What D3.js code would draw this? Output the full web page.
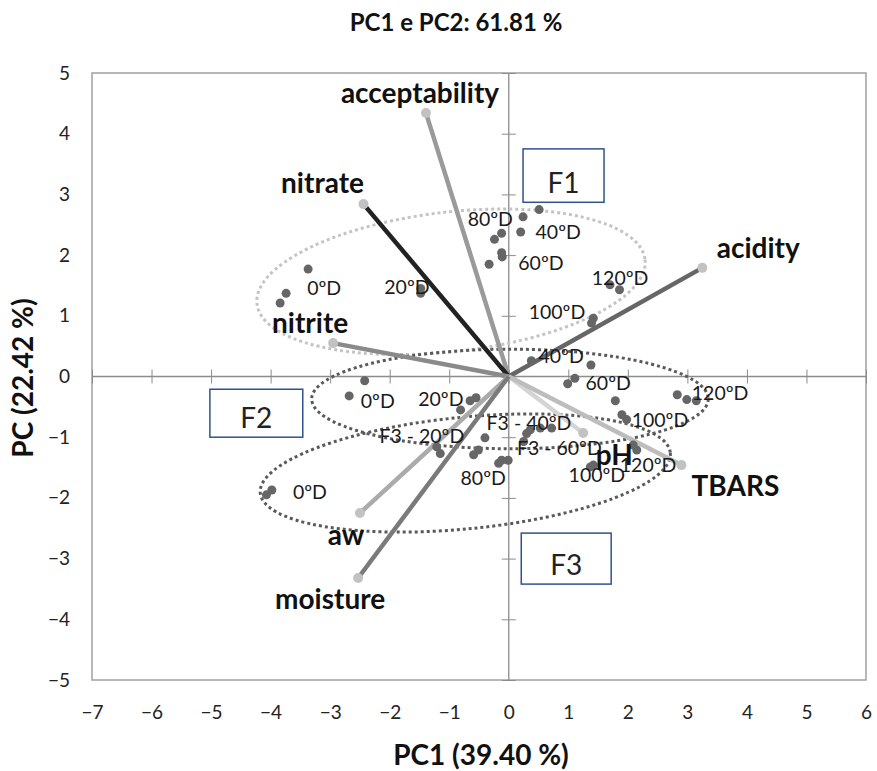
<!DOCTYPE html>
<html>
<head>
<meta charset="utf-8">
<script src="https://cdn.jsdelivr.net/npm/d3@7"></script>
<style>
  body { margin: 0; background: #fff; }
  svg { font-family: Lato, "Liberation Sans", sans-serif; }
</style>
</head>
<body>
<div id="chart"></div>
<script>
// loadings (vectors)
var variables = ["acceptability", "nitrate", "acidity", "nitrite", "pH", "TBARS", "aw", "moisture"];
var loadX = [-1.39, -2.44, 3.25, -2.95, 1.25, 2.90, -2.50, -2.53];
var loadY = [4.34, 2.84, 1.79, 0.55, -0.93, -1.46, -2.25, -3.32];

// scores (F1, F2, F3 samples)
var scoreX = [-3.37, -3.74, -3.84, -1.48, -1.48, 0.51, 0.24, 0.20, -0.12, -0.24, -0.12, -0.11, -0.33, 1.70, 1.86, 1.42, 1.39,
              -2.42, -2.68, -0.55, -0.65, -0.81, 1.38, 0.38, 1.11, 0.99, 1.79, 1.90, 1.98, 2.83, 2.99, 3.15,
              -3.98, -4.07, -1.21, -1.15, -0.40, -0.51, -0.59, 0.30, 0.36, 0.53, 0.72, 0.25, -0.12, -0.01, -0.17, 2.15, 2.09, 1.37, 1.42];
var scoreY = [1.77, 1.37, 1.21, 1.37, 1.45, 2.75, 2.63, 2.38, 2.36, 2.26, 2.04, 1.97, 1.85, 1.51, 1.43, 0.96, 0.88,
              -0.07, -0.32, -0.35, -0.40, -0.55, 0.19, 0.26, -0.03, -0.12, -0.40, -0.63, -0.71, -0.30, -0.38, -0.40,
              -1.87, -1.95, -1.16, -1.27, -1.01, -1.21, -1.29, -0.94, -0.88, -0.85, -0.85, -1.07, -1.38, -1.38, -1.43, -1.21, -1.13, -1.49, -1.46];

// sample labels
var sampleNames = ["80ºD", "40ºD", "60ºD", "120ºD", "100ºD", "0ºD", "20ºD",
                   "0ºD", "20ºD", "40ºD", "60ºD", "100ºD", "120ºD",
                   "F3 - 20ºD", "F3 - 40ºD", "F3 - 60ºD", "80ºD", "0ºD", "100ºD", "120ºD"];
var sampleX = [-0.31, 0.83, 0.54, 1.87, 0.81, -3.10, -1.71,
               -2.20, -1.14, 0.88, 1.67, 2.54, 3.55,
               -1.46, 0.34, 0.85, -0.43, -3.34, 1.48, 2.34];
var sampleY = [2.59, 2.38, 1.87, 1.62, 1.06, 1.46, 1.47,
               -0.40, -0.37, 0.34, -0.11, -0.72, -0.27,
               -0.98, -0.77, -1.18, -1.67, -1.90, -1.62, -1.46];

// group ellipses: centre, radii (data units), tilt
var groupNames = ["F1", "F2", "F3"];
var groupCx = [-0.97, 0.02, -0.73];
var groupCy = [1.56, -0.37, -1.59];
var groupRx = [3.28, 3.33, 3.46];
var groupRy = [1.15, 0.82, 0.92];
var groupTilt = [-6.5, 0, -5.6];

// group boxes
var boxX0 = [0.24, -5.02, 0.21];
var boxX1 = [1.60, -3.46, 1.72];
var boxY0 = [3.75, -0.21, -2.58];
var boxY1 = [2.87, -1.00, -3.42];

var xTicks = [-7, -6, -5, -4, -3, -2, -1, 0, 1, 2, 3, 4, 5, 6];
var yTicks = [-5, -4, -3, -2, -1, 0, 1, 2, 3, 4, 5];

var width = 877, height = 771;
var margin = { top: 73, right: 11, bottom: 91, left: 92 };

var lineColors = ["#9a9a9a", "#222222", "#666666", "#8a8a8a", "#d4d4d4", "#bdbdbd", "#ababab", "#7a7a7a"];
var labelOffset = [[-6, -20], [-41, -21], [56, -20], [-23, -20], [31, 22], [54, 21], [-14, 22], [-28, 21]];
var ellipseColors = ["#c4c4c4", "#5a5a5a", "#5a5a5a"];

var svg = d3.select("#chart").append("svg")
  .attr("width", width)
  .attr("height", height);

var x = d3.scaleLinear().domain([-7, 6]).range([margin.left, width - margin.right]);
var y = d3.scaleLinear().domain([-5, 5]).range([height - margin.bottom, margin.top]);

// frame
svg.append("rect")
  .attr("x", x(-7)).attr("y", y(5))
  .attr("width", x(6) - x(-7)).attr("height", y(-5) - y(5))
  .attr("fill", "none").attr("stroke", "#a0a0a0").attr("stroke-width", 1.5);

// tick labels on the frame
svg.append("g")
  .attr("transform", `translate(0,${y(-5)})`)
  .call(d3.axisBottom(x).tickValues(xTicks).tickSize(0).tickPadding(26))
  .call(g => g.select(".domain").remove())
  .selectAll("text").attr("font-size", "19px").attr("fill", "#222").attr("font-family", "Lato");

svg.append("g")
  .attr("transform", `translate(${x(-7)},0)`)
  .call(d3.axisLeft(y).tickValues(yTicks).tickSize(0).tickPadding(22))
  .call(g => g.select(".domain").remove())
  .selectAll("text").attr("font-size", "19px").attr("fill", "#222").attr("font-family", "Lato");

// centre axes with crossing ticks
var cx0 = svg.append("g")
  .attr("transform", `translate(0,${y(0) - 7})`)
  .call(d3.axisBottom(x).tickValues(xTicks).tickSize(14).tickFormat(""));
cx0.select(".domain").remove();
cx0.selectAll("line").attr("stroke", "#8c8c8c");

var cy0 = svg.append("g")
  .attr("transform", `translate(${x(0) + 7},0)`)
  .call(d3.axisLeft(y).tickValues(yTicks).tickSize(14).tickFormat(""));
cy0.select(".domain").remove();
cy0.selectAll("line").attr("stroke", "#8c8c8c");

svg.append("line")
  .attr("x1", x(-7)).attr("x2", x(6)).attr("y1", y(0)).attr("y2", y(0))
  .attr("stroke", "#8c8c8c").attr("stroke-width", 1.3);
svg.append("line")
  .attr("x1", x(0)).attr("x2", x(0)).attr("y1", y(5)).attr("y2", y(-5))
  .attr("stroke", "#8c8c8c").attr("stroke-width", 1.3);

// ellipses
svg.append("g").selectAll("ellipse")
  .data(groupNames)
  .join("ellipse")
    .attr("transform", (d, i) => `translate(${x(groupCx[i])},${y(groupCy[i])}) rotate(${groupTilt[i]})`)
    .attr("rx", (d, i) => x(groupCx[i] + groupRx[i]) - x(groupCx[i]))
    .attr("ry", (d, i) => y(groupCy[i]) - y(groupCy[i] + groupRy[i]))
    .attr("fill", "none")
    .attr("stroke", (d, i) => ellipseColors[i])
    .attr("stroke-width", 3)
    .attr("stroke-dasharray", "3,3");

// boxes
var boxes = svg.append("g").selectAll("g")
  .data(groupNames)
  .join("g");
boxes.append("rect")
  .attr("x", (d, i) => x(boxX0[i]))
  .attr("y", (d, i) => y(boxY0[i]))
  .attr("width", (d, i) => x(boxX1[i]) - x(boxX0[i]))
  .attr("height", (d, i) => y(boxY1[i]) - y(boxY0[i]))
  .attr("fill", "#fff")
  .attr("stroke", "#2f528f")
  .attr("stroke-width", 1.5);
boxes.append("text")
  .attr("x", (d, i) => (x(boxX0[i]) + x(boxX1[i])) / 2)
  .attr("y", (d, i) => y(boxY1[i]) - 9)
  .attr("text-anchor", "middle")
  .attr("font-size", "28px")
  .attr("fill", "#222")
  .text(d => d);

// vectors
svg.append("g").selectAll("line")
  .data(variables)
  .join("line")
    .attr("x1", x(0)).attr("y1", y(0))
    .attr("x2", (d, i) => x(loadX[i]))
    .attr("y2", (d, i) => y(loadY[i]))
    .attr("stroke", (d, i) => lineColors[i])
    .attr("stroke-width", 4.5);

svg.append("g").selectAll("circle")
  .data(variables)
  .join("circle")
    .attr("cx", (d, i) => x(loadX[i]))
    .attr("cy", (d, i) => y(loadY[i]))
    .attr("r", 5)
    .attr("fill", "#c2c2c2");

// score points
svg.append("g").attr("fill", "#666")
  .selectAll("circle")
  .data(scoreX)
  .join("circle")
    .attr("cx", d => x(d))
    .attr("cy", (d, i) => y(scoreY[i]))
    .attr("r", 4.5);

// sample labels
svg.append("g").selectAll("text")
  .data(sampleNames)
  .join("text")
    .attr("x", (d, i) => x(sampleX[i]))
    .attr("y", (d, i) => y(sampleY[i]))
    .attr("dy", "0.35em")
    .attr("text-anchor", "middle")
    .attr("font-size", "19.5px")
    .attr("fill", "#1a1a1a")
    .text(d => d);

// variable labels
svg.append("g").selectAll("text")
  .data(variables)
  .join("text")
    .attr("x", (d, i) => x(loadX[i]) + labelOffset[i][0])
    .attr("y", (d, i) => y(loadY[i]) + labelOffset[i][1])
    .attr("dy", "0.35em")
    .attr("text-anchor", "middle")
    .attr("font-size", "28px")
    .attr("font-weight", "bold")
    .attr("fill", "#111")
    .text(d => d);

// titles
svg.append("text")
  .attr("x", 456).attr("y", 31)
  .attr("text-anchor", "middle")
  .attr("font-size", "24px").attr("font-weight", "bold").attr("fill", "#111")
  .text("PC1 e PC2: 61.81 %");

svg.append("text")
  .attr("x", 481).attr("y", 765)
  .attr("text-anchor", "middle")
  .attr("font-size", "28px").attr("font-weight", "bold").attr("fill", "#111")
  .text("PC1 (39.40 %)");

svg.append("text")
  .attr("transform", "translate(33,378) rotate(-90)")
  .attr("text-anchor", "middle")
  .attr("font-size", "28px").attr("font-weight", "bold").attr("fill", "#111")
  .text("PC (22.42 %)");
</script>
</body>
</html>
